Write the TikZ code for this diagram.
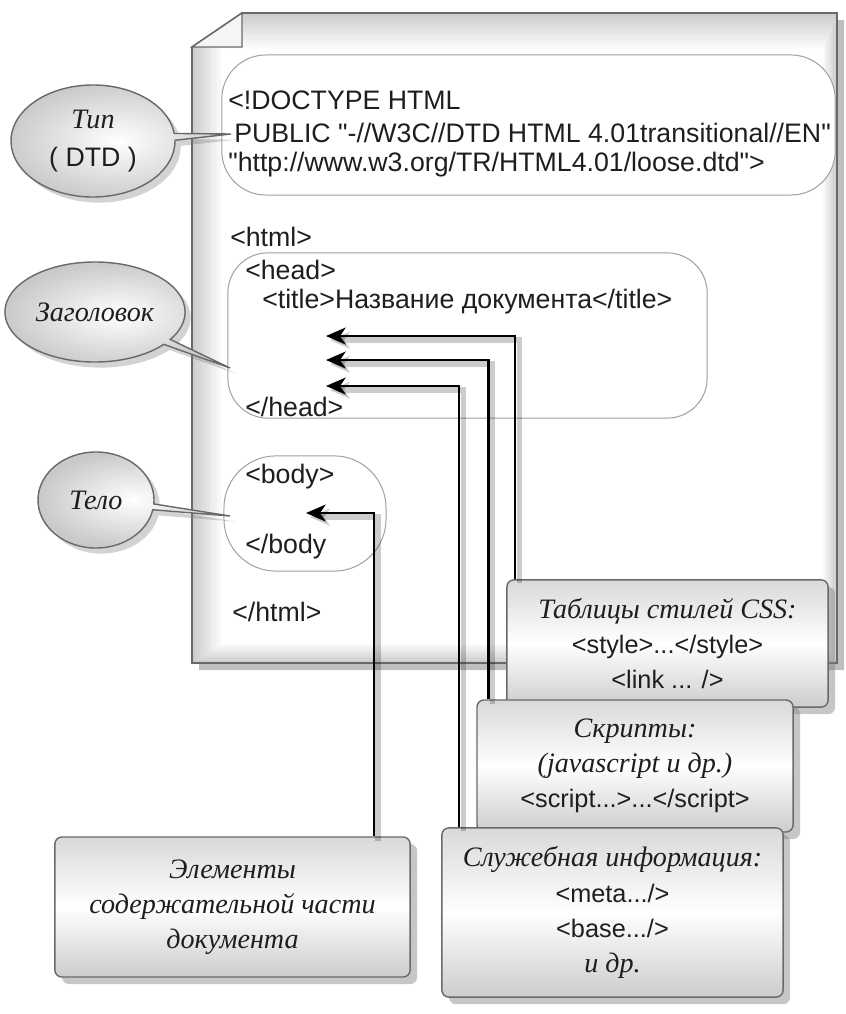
\documentclass[tikz,border=0pt]{standalone}
\usepackage{fontspec}
\setmainfont{Liberation Sans}[Ligatures=TeXOff]
\newfontfamily\callig{Liberation Serif}
\usetikzlibrary{arrows.meta}
\usetikzlibrary{shapes.callouts, shadows, calc}
\definecolor{rimgray}{RGB}{105,105,105}
\definecolor{inkgray}{RGB}{30,30,30}

\tikzset{
  tag/.style={anchor=west, inner sep=0pt, text=inkgray,
    font=\fontsize{19}{23}\selectfont},
  zone/.style={draw=gray!75, line width=0.7pt, fill=white, inner sep=0pt},
  bubble/.style={ellipse callout, callout pointer arc=7, draw=rimgray,
    line width=1pt, inner color=white, outer color=gray!42,
    drop shadow={opacity=0.35, shadow xshift=4pt, shadow yshift=-4pt},
    align=center, text=inkgray, font=\fontsize{19}{27}\selectfont},
  notebox/.style={rectangle, rounded corners=5pt, draw=rimgray, line width=1pt,
    top color=gray!30, bottom color=gray!40, middle color=white,
    drop shadow={opacity=0.45, shadow xshift=5pt, shadow yshift=-5pt},
    align=center, text=inkgray, font=\fontsize{18}{25}\selectfont},
  feed/.style={line width=1.8pt, -{Stealth[length=14pt, width=12pt, inset=4pt]},
    preaction={draw=black, opacity=0.2, line width=4pt,
      transform canvas={shift={(3pt,-3pt)}}}}
}
\newcommand{\handtext}[1]{{\callig\itshape\fontsize{20}{25}\selectfont #1}}

\begin{document}
\begin{tikzpicture}[x=0.025cm, y=-0.025cm]
\useasboundingbox (0,0) rectangle (846,1014);

% sheet with folded corner
\path[fill=white, drop shadow={opacity=0.5, shadow xshift=5pt, shadow yshift=-5pt}]
  (192,47) -- (242,13) -- (837,13) -- (837,663) -- (192,663) -- cycle;
\begin{scope}
\clip (192,47) -- (242,13) -- (837,13) -- (837,663) -- (192,663) -- cycle;
\foreach \k [evaluate=\k as \c using int(40-3.3*\k)] in {0,...,12}{
  \fill[gray!\c] (192+2.5*\k,13+3*\k) rectangle (837-1.2*\k,663-1.6*\k);
}
\end{scope}
\draw[rimgray, line width=1.2pt] (192,47) -- (242,13) -- (837,13) -- (837,663) -- (192,663) -- cycle;
\filldraw[fill=gray!8, draw=rimgray, line width=1pt] (192,47) -- (242,13) -- (242,47) -- cycle;

% zones on the sheet
\node[zone, rounded corners=1.1cm, minimum width=15.33cm, minimum height=3.5cm] (dtdbox) at (528.5,125) {};
\node[zone, rounded corners=1cm, minimum width=11.98cm, minimum height=4.13cm] (headbox) at (467.5,335.5) {};
\node[zone, rounded corners=1.3cm, minimum width=4.05cm, minimum height=2.88cm] (bodybox) at (305,513.5) {};

% markup
\node[tag] (doctype) at (228,100) {<!DOCTYPE HTML};
\node[tag] (public) at (234,133) {PUBLIC "-//W3C//DTD HTML 4.01transitional//EN"};
\node[tag] (dtdurl) at (228,165) {"http://www.w3.org/TR/HTML4.01/loose.dtd">};
\node[tag] (htmlopen) at (230,237) {<html>};
\node[tag] (headopen) at (245,270) {<head>};
\node[tag] (titletag) at (262,302) {<title>Название документа</title>};
\node[tag] (headclose) at (245,407) {</head>};
\node[tag] (bodyopen) at (245,477) {<body>};
\node[tag] (bodyclose) at (245,547) {</body};
\node[tag] (htmlclose) at (232,612) {</html>};

% notes
\node[notebox, minimum width=8.03cm, minimum height=3.18cm] (css) at (667.5,643.5)
  {\handtext{Таблицы стилей CSS:}\\<style>...</style>\\<link ... />};
\node[notebox, minimum width=7.9cm, minimum height=3.3cm] (scripts) at (635,766)
  {\handtext{Скрипты:}\\\handtext{(javascript и др.)}\\<script...>...</script>};
\node[notebox, minimum width=8.53cm, minimum height=4.23cm] (service) at (612.5,912.5)
  {\handtext{Служебная информация:}\\<meta.../>\\<base.../>\\\handtext{и др.}};
\node[notebox, minimum width=8.88cm, minimum height=3.5cm] (content) at (232.5,907)
  {\handtext{Элементы}\\\handtext{содержательной части}\\\handtext{документа}};

% arrows into head and body
\coordinate (tipA) at (326,336);
\coordinate (tipB) at (326,360);
\coordinate (tipC) at (326,386);
\coordinate (tipD) at (306,513);
\draw[feed] ($(css.north west)+(9,0)$) |- (tipA);
\draw[feed] ($(scripts.north west)+(12,0)$) |- (tipB);
\draw[feed] ($(service.north west)+(18,0)$) |- (tipC);
\draw[feed] ($(content.north east)+(-37,0)$) |- (tipD);

% callouts
\coordinate (dtdtip) at (231,134);
\coordinate (headtip) at (230,368);
\coordinate (bodytip) at (230,516);
\node[bubble, minimum width=4.1cm, minimum height=2.8cm, callout absolute pointer={(dtdtip)}]
  (typ) at (93,141) {\handtext{Тип}\\( DTD )};
\node[bubble, minimum width=4.12cm, minimum height=2.5cm, callout absolute pointer={(headtip)}]
  (headnote) at (95,312) {\handtext{Заголовок}};
\node[bubble, minimum width=2.9cm, minimum height=2.4cm, callout absolute pointer={(bodytip)}]
  (bodynote) at (96,500) {\handtext{Тело}};

\end{tikzpicture}
\end{document}
